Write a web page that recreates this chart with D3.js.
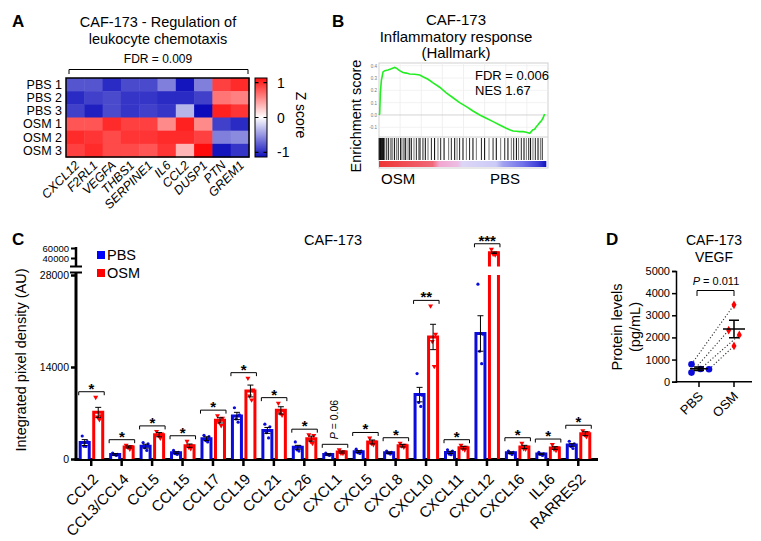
<!DOCTYPE html>
<html>
<head>
<meta charset="utf-8">
<script src="https://cdn.jsdelivr.net/npm/d3@7"></script>
<style>
  body { margin: 0; background: #fff; }
  svg { display: block; font-family: "Liberation Sans", Arial, sans-serif; }
</style>
</head>
<body>
<svg id="fig" width="761" height="541"></svg>
<script>
// ---------- data: panel A (z scores) ----------
const heatRows = ["PBS 1", "PBS 2", "PBS 3", "OSM 1", "OSM 2", "OSM 3"];
const heatGenes = ["CXCL12", "F2RL1", "VEGFA", "THBS1", "SERPINE1", "IL6", "CCL2", "DUSP1", "PTN", "GREM1"];
const zScores = [
    [-0.8, -0.8, -1.0, -0.85, -0.85, -0.6, -1.1, -0.6, 0.9, 1.0],
    [-1.0, -0.9, -0.85, -0.95, -0.95, -1.0, -1.0, -0.9, 0.65, 0.6],
    [-0.9, -1.05, -0.85, -0.95, -0.9, -0.95, -0.35, -1.15, 1.05, 0.95],
    [0.8, 0.8, 1.0, 0.9, 0.9, 0.55, 1.05, 0.55, -0.9, -1.0],
    [1.0, 0.95, 0.85, 0.95, 0.95, 1.0, 1.0, 0.9, -0.6, -0.55],
    [0.9, 1.0, 0.85, 0.85, 0.8, 0.95, 0.35, 1.15, -1.1, -0.95]
];
const zTicks = [1, 0, -1];

// ---------- data: panel B (GSEA running score) ----------
const esRank = [0, 0.4, 0.8, 1.4, 2.4, 3.4, 5.3, 7.3, 9.3, 10.3, 12.2, 14.2, 16.2, 18.1, 21.1, 24.1,
    26, 29, 32, 35.9, 39.8, 43.8, 47.7, 51.7, 55.6, 59.6, 63.5, 67.5, 71.4, 75.3, 77.3, 79.3,
    81.3, 83.2, 85.2, 87.2, 89.2, 90.1, 91.1, 92.1, 93.1, 94.1, 95.1, 96.1, 97, 98];
const esValue = [0, 0.01, 0.18, 0.28, 0.35, 0.36, 0.365, 0.375, 0.386, 0.38, 0.36, 0.345, 0.34, 0.332, 0.33, 0.325,
    0.31, 0.29, 0.26, 0.225, 0.18, 0.14, 0.10, 0.068, 0.032, 0.0, -0.027, -0.054, -0.081, -0.108, -0.12, -0.13,
    -0.132, -0.135, -0.135, -0.14, -0.149, -0.135, -0.12, -0.116, -0.095, -0.08, -0.062, -0.046, -0.027, 0.008];
const hitRank = [0.1, 0.4, 0.7, 1.0, 1.3, 1.6, 1.9, 2.2, 2.5, 2.8, 3.2, 4.3, 5.5, 6.7, 7.7, 9.1, 10.3, 11.4,
    12.8, 13.6, 14.8, 15.8, 17.2, 18.1, 19.1, 20.7, 22.1, 23.7, 24.5, 26.0, 27.4, 29.0, 31.0, 32.9, 34.9,
    36.5, 38.5, 41.2, 42.8, 44.8, 46.2, 47.7, 49.7, 51.7, 53.6, 55.6, 57.6, 60.6, 62.5, 65.1, 67.5, 69.4,
    72.0, 74.4, 76.3, 78.3, 79.7, 81.3, 82.6, 84.2, 85.8, 87.2, 88.6, 89.7, 91.1, 92.5, 94.1, 95.5, 96.6];
const esTicks = [-0.1, 0, 0.1, 0.2, 0.3, 0.4];

// ---------- data: panel C (cytokine array) ----------
const chemokines = ["CCL2", "CCL3/CCL4", "CCL5", "CCL15", "CCL17", "CCL19", "CCL21", "CCL26", "CXCL1",
    "CXCL5", "CXCL8", "CXCL10", "CXCL11", "CXCL12", "CXCL16", "IL16", "RARRES2"];
const pbsMean = [2500, 700, 1950, 950, 3100, 6550, 4350, 1780, 700, 1120, 960, 9800, 1000, 19100, 950, 760, 2130];
const osmMean = [7100, 1830, 3700, 2030, 5880, 10350, 7400, 3100, 1060, 2590, 2030, 18570, 1730, 50500, 1830, 1670, 3850];
const pbsSem = [450, 120, 300, 150, 280, 550, 450, 300, 100, 150, 100, 1100, 180, 2700, 120, 100, 200];
const osmSem = [760, 150, 320, 250, 400, 900, 550, 380, 150, 300, 200, 1930, 200, 1400, 250, 200, 300];
const pbsPoints = [
    [3500, 2650, 1950, 1900], [900, 700, 650, 550], [2500, 2300, 1700, 1300], [1300, 1000, 800, 700],
    [3600, 3400, 2800, 2600], [7800, 6700, 6100, 5600], [5300, 4900, 4000, 3200], [2600, 1900, 1400, 1200],
    [900, 700, 650, 550], [1500, 1200, 950, 850], [1200, 1000, 900, 750], [13000, 9700, 8600, 8000],
    [1400, 1200, 750, 650], [26600, 19000, 16400, 14500], [1200, 1000, 900, 700], [1000, 800, 700, 550],
    [2700, 2300, 1900, 1600]
];
const osmPoints = [
    [9400, 6600, 6400, 6000], [2100, 1900, 1800, 1500], [4200, 3800, 3600, 3200], [2700, 2000, 1800, 1600],
    [6600, 6200, 5600, 5100], [12300, 10500, 9600, 9000], [8500, 7400, 7000, 6700], [3700, 3600, 2700, 2400],
    [1400, 1100, 900, 850], [3200, 2600, 2400, 2200], [2400, 2100, 2000, 1800], [23300, 19000, 17900, 14100],
    [2100, 1800, 1600, 1400], [57500, 50000, 48000, 46500], [2400, 1800, 1600, 1500], [2200, 1700, 1500, 1300],
    [4300, 4000, 3700, 3400]
];
const sigLabels = ["*", "*", "*", "*", "*", "*", "*", "*", "P = 0.06", "*", "*", "**", "*", "***", "*", "*", "*"];
const lowTicks = [0, 14000, 28000];
const highTicks = [40000, 60000];

// ---------- data: panel D (VEGF ELISA) ----------
const vegfGroups = ["PBS", "OSM"];
const vegfPbs = [790, 410, 575, 560];
const vegfOsm = [3470, 2325, 2110, 1615];
const vegfTicks = [0, 1000, 2000, 3000, 4000, 5000];

const BLUE = "#0b0bdc";
const RED = "#ff0000";
const FONT = "Liberation Sans, Arial, sans-serif";

const fig = d3.select("#fig");

function panelLetter(x, y, t) {
    fig.append("text").attr("x", x).attr("y", y)
        .attr("font-size", 17).attr("font-weight", "bold").text(t);
}

// ================= Panel A =================
panelLetter(12, 27, "A");
const gA = fig.append("g");

gA.append("text").attr("x", 158).attr("y", 27).attr("text-anchor", "middle")
    .attr("font-size", 14.5).text("CAF-173 - Regulation of");
gA.append("text").attr("x", 158).attr("y", 44).attr("text-anchor", "middle")
    .attr("font-size", 14.5).text("leukocyte chemotaxis");
gA.append("text").attr("x", 158).attr("y", 63).attr("text-anchor", "middle")
    .attr("font-size", 12).text("FDR = 0.009");
gA.append("path").attr("d", "M69,74V69.5H248V74")
    .attr("fill", "none").attr("stroke", "#000").attr("stroke-width", 1);

const hx = d3.scaleBand().domain(heatGenes).range([66, 249]);
const hy = d3.scaleBand().domain(heatRows).range([78, 157]);
const zColor = d3.scaleLinear().domain([-1.2, 0, 1.2])
    .range(["#0000b8", "#ffffff", "#ff0000"]).clamp(true);

const cells = heatRows.flatMap((r, i) => heatGenes.map((g, j) => ({ r: r, g: g, v: zScores[i][j] })));
gA.selectAll("rect.cell")
    .data(cells)
    .enter()
    .append("rect")
    .attr("class", "cell")
    .attr("x", d => hx(d.g))
    .attr("y", d => hy(d.r))
    .attr("width", hx.bandwidth() + 0.5)
    .attr("height", hy.bandwidth() + 0.5)
    .attr("fill", d => zColor(d.v));
gA.append("rect").attr("x", 66).attr("y", 78).attr("width", 183).attr("height", 79)
    .attr("fill", "none").attr("stroke", "#000").attr("stroke-width", 1.5);

gA.selectAll("text.row")
    .data(heatRows)
    .enter()
    .append("text")
    .attr("class", "row")
    .attr("x", 62)
    .attr("y", d => hy(d) + hy.bandwidth() / 2)
    .attr("dy", "0.35em")
    .attr("text-anchor", "end")
    .attr("font-size", 12.5)
    .text(d => d);

gA.selectAll("text.gene")
    .data(heatGenes)
    .enter()
    .append("text")
    .attr("class", "gene")
    .attr("transform", d => `translate(${hx(d) + hx.bandwidth() / 2 + 5}, 166) rotate(-45)`)
    .attr("text-anchor", "end")
    .attr("font-size", 12.5)
    .attr("font-style", "italic")
    .text(d => d);

// colour bar
const zBar = d3.scaleLinear().domain([-1.13, 1.13]).range([157, 78]);
const defs = fig.append("defs");
const zGrad = defs.append("linearGradient").attr("id", "zgrad")
    .attr("x1", 0).attr("y1", 1).attr("x2", 0).attr("y2", 0);
d3.range(0, 1.0001, 0.05).forEach(t => {
    zGrad.append("stop").attr("offset", t)
        .attr("stop-color", zColor(zBar.domain()[0] + t * (zBar.domain()[1] - zBar.domain()[0])));
});
gA.append("rect").attr("x", 255).attr("y", 78).attr("width", 12).attr("height", 79)
    .attr("fill", "url(#zgrad)").attr("stroke", "#000").attr("stroke-width", 1);
gA.selectAll("line.ztick")
    .data(zTicks)
    .enter()
    .append("line")
    .attr("x1", 255).attr("x2", 267)
    .attr("y1", d => zBar(d)).attr("y2", d => zBar(d))
    .attr("stroke", "#000").attr("stroke-width", 1.2)
    .attr("stroke-dasharray", "3.5,5");
gA.selectAll("text.ztick")
    .data(zTicks)
    .enter()
    .append("text")
    .attr("x", 277)
    .attr("y", d => zBar(d))
    .attr("dy", "0.36em")
    .attr("font-size", 14)
    .text(d => d < 0 ? "-" + Math.abs(d) : d);
gA.append("text").attr("transform", "translate(296,115) rotate(90)")
    .attr("text-anchor", "middle").attr("font-size", 14).text("Z score");

// ================= Panel B =================
panelLetter(332, 27, "B");
const gB = fig.append("g");
[["CAF-173", 25], ["Inflammatory response", 41.5], ["(Hallmark)", 58]].forEach(([t, y]) => {
    gB.append("text").attr("x", 456).attr("y", y).attr("text-anchor", "middle")
        .attr("font-size", 15).text(t);
});

const gx = d3.scaleLinear().domain([0, 100]).range([379, 548]);
const gy = d3.scaleLinear().domain([-0.1, 0.4]).range([127.3, 65.7]);

// frames and light grid
gB.append("rect").attr("x", 379).attr("y", 63).attr("width", 169).attr("height", 105)
    .attr("fill", "#fff").attr("stroke", "#cfcfcf").attr("stroke-width", 1);
gB.selectAll("line.vgrid")
    .data(d3.range(12.5, 100, 12.5))
    .enter()
    .append("line")
    .attr("x1", d => gx(d)).attr("x2", d => gx(d))
    .attr("y1", 63).attr("y2", 137)
    .attr("stroke", "#ececec").attr("stroke-width", 0.8);
gB.selectAll("line.hgrid")
    .data(esTicks)
    .enter()
    .append("line")
    .attr("x1", 379).attr("x2", 548)
    .attr("y1", d => gy(d)).attr("y2", d => gy(d))
    .attr("stroke", d => d === 0 ? "#c8c8c8" : "#efefef").attr("stroke-width", 0.8);
gB.append("line").attr("x1", 379).attr("x2", 548).attr("y1", 137).attr("y2", 137)
    .attr("stroke", "#cfcfcf");

const esAxis = gB.append("g").attr("transform", "translate(379,0)")
    .call(d3.axisLeft(gy).tickValues(esTicks).tickSize(0).tickPadding(2)
        .tickFormat(d => (d < 0 ? "-" : "") + Math.abs(d).toFixed(1)));
esAxis.select(".domain").remove();
esAxis.selectAll("text").attr("font-size", 4.5).attr("fill", "#777").attr("font-family", FONT);

// barcode
gB.selectAll("line.hit")
    .data(hitRank)
    .enter()
    .append("line")
    .attr("x1", d => gx(d)).attr("x2", d => gx(d))
    .attr("y1", 138).attr("y2", 160)
    .attr("stroke", "#000")
    .attr("stroke-opacity", (d, i) => [1, 0.55, 0.85][i % 3])
    .attr("stroke-width", 1);

// ranked-list strip
const sGrad = defs.append("linearGradient").attr("id", "sgrad");
[[0, "#ee3434"], [0.32, "#f06878"], [0.36, "#f2a6cf"], [0.47, "#ecbde3"], [0.5, "#dcd6f6"],
 [0.7, "#cbcbf8"], [0.74, "#a2a2f0"], [0.86, "#7272ea"], [0.95, "#4040d8"], [1, "#1212bf"]]
    .forEach(([o, c]) => sGrad.append("stop").attr("offset", o).attr("stop-color", c));
gB.append("rect").attr("x", gx(0)).attr("y", 161).attr("width", gx(99) - gx(0)).attr("height", 6)
    .attr("fill", "url(#sgrad)");

// running enrichment score
const esLine = d3.line().x((d, i) => gx(esRank[i])).y(d => gy(d));
gB.append("path").attr("d", esLine(esValue))
    .attr("fill", "none").attr("stroke", "#22ee22").attr("stroke-width", 1.6);

gB.append("text").attr("x", 475).attr("y", 80).attr("font-size", 13).text("FDR = 0.006");
gB.append("text").attr("x", 475).attr("y", 95).attr("font-size", 13).text("NES 1.67");
gB.append("text").attr("transform", "translate(361,116) rotate(-90)")
    .attr("text-anchor", "middle").attr("font-size", 14.5).text("Enrichment score");
gB.append("text").attr("x", 381).attr("y", 184).attr("font-size", 15).text("OSM");
gB.append("text").attr("x", 490).attr("y", 184).attr("font-size", 15).text("PBS");

// ================= Panel C =================
panelLetter(12, 245, "C");
const gC = fig.append("g");
gC.append("text").attr("x", 333).attr("y", 245).attr("text-anchor", "middle")
    .attr("font-size", 14.5).text("CAF-173");

const cx = d3.scaleBand().domain(chemokines).range([76, 593.5]);
const cyLow = d3.scaleLinear().domain([0, 28000]).range([459, 275]);
const cyHigh = d3.scaleLinear().domain([40000, 60000]).range([258, 248]);
const yOf = v => v <= 28000 ? cyLow(v) : cyHigh(v);
const BREAK_TOP = 266.5;
const tickX = d => cx(d) + cx.bandwidth() / 2;

// y axis with break
const lowAxis = gC.append("g").attr("transform", "translate(76,0)")
    .call(d3.axisLeft(cyLow).tickValues(lowTicks).tickSize(5).tickPadding(2).tickFormat(d3.format("d")));
lowAxis.select(".domain").remove();
lowAxis.selectAll("line").attr("stroke-width", 2.5);
lowAxis.selectAll("text").attr("font-size", 10.5).attr("font-family", FONT);
const highAxis = gC.append("g").attr("transform", "translate(76,0)")
    .call(d3.axisLeft(cyHigh).tickValues(highTicks).tickSize(5).tickPadding(2).tickFormat(d3.format("d")));
highAxis.select(".domain").remove();
highAxis.selectAll("line").attr("stroke-width", 2);
highAxis.selectAll("text").attr("font-size", 9.5).attr("font-family", FONT);
gC.append("line").attr("x1", 76).attr("x2", 76).attr("y1", 272).attr("y2", 460.5)
    .attr("stroke", "#000").attr("stroke-width", 3);
gC.append("line").attr("x1", 76).attr("x2", 76).attr("y1", 247).attr("y2", BREAK_TOP)
    .attr("stroke", "#000").attr("stroke-width", 2.5);
gC.append("line").attr("x1", 70).attr("x2", 82).attr("y1", BREAK_TOP).attr("y2", BREAK_TOP)
    .attr("stroke", "#000").attr("stroke-width", 2);
gC.append("line").attr("x1", 70).attr("x2", 82).attr("y1", 272.5).attr("y2", 272.5)
    .attr("stroke", "#000").attr("stroke-width", 2);

gC.append("text").attr("transform", "translate(26,360) rotate(-90)")
    .attr("text-anchor", "middle").attr("font-size", 14.5).text("Integrated pixel density (AU)");

// x axis
gC.append("line").attr("x1", 74.5).attr("x2", 598).attr("y1", 459.5).attr("y2", 459.5)
    .attr("stroke", "#000").attr("stroke-width", 3);
gC.selectAll("line.xtick")
    .data(chemokines)
    .enter()
    .append("line")
    .attr("x1", tickX).attr("x2", tickX)
    .attr("y1", 459).attr("y2", 466)
    .attr("stroke", "#000").attr("stroke-width", 2.5);
gC.selectAll("text.xlab")
    .data(chemokines)
    .enter()
    .append("text")
    .attr("transform", d => `translate(${tickX(d) + 8}, 480) rotate(-45)`)
    .attr("text-anchor", "end")
    .attr("font-size", 15)
    .text(d => d);

// bars
const BAR_W = 9;
const groups = [
    { name: "PBS", mean: pbsMean, sem: pbsSem, pts: pbsPoints, color: BLUE, off: -6.5 },
    { name: "OSM", mean: osmMean, sem: osmSem, pts: osmPoints, color: RED, off: 7 }
];
const jitter = [-2.5, 2.5, -0.8, 1.2];

groups.forEach(grp => {
    const bars = chemokines.map((c, i) => ({ c: c, v: grp.mean[i], s: grp.sem[i], pts: grp.pts[i] }));
    const gg = gC.append("g");
    gg.selectAll("path.bar")
        .data(bars)
        .enter()
        .append("path")
        .attr("d", d => {
            const xl = tickX(d.c) + grp.off - BAR_W / 2;
            const xr = xl + BAR_W;
            if (d.v <= 28000) {
                return `M${xl},459V${yOf(d.v)}H${xr}V459`;
            }
            return `M${xl},459V275M${xr},275V459` +
                `M${xl},${BREAK_TOP}V${yOf(d.v)}H${xr}V${BREAK_TOP}`;
        })
        .attr("fill", "#fff")
        .attr("stroke", grp.color)
        .attr("stroke-width", 3);

    // points
    bars.forEach(d => {
        const cxp = tickX(d.c) + grp.off;
        d.pts.forEach((p, k) => {
            if (grp.name === "PBS") {
                gg.append("circle").attr("cx", cxp + jitter[k]).attr("cy", yOf(p))
                    .attr("r", 1.6).attr("fill", grp.color);
            } else {
                gg.append("path")
                    .attr("d", d3.symbol(d3.symbolTriangle).size(11)())
                    .attr("transform", `translate(${cxp + jitter[k]},${yOf(p)}) rotate(180)`)
                    .attr("fill", grp.color);
            }
        });
    });

    // error bars
    gg.selectAll("path.err")
        .data(bars)
        .enter()
        .append("path")
        .attr("d", d => {
            const x = tickX(d.c) + grp.off;
            const y1 = yOf(d.v + d.s), y0 = yOf(d.v - d.s);
            return `M${x},${y0}V${y1}M${x - 3},${y1}H${x + 3}M${x - 3},${y0}H${x + 3}`;
        })
        .attr("fill", "none")
        .attr("stroke", "#000")
        .attr("stroke-width", 1);
});

// significance brackets
chemokines.forEach((c, i) => {
    const top = d3.max([...pbsPoints[i], ...osmPoints[i], pbsMean[i] + pbsSem[i], osmMean[i] + osmSem[i]]);
    const by = yOf(top) - 5.5;
    const xl = tickX(c) - 6.5 - BAR_W / 2 - 1.5;
    const xr = tickX(c) + 7 + BAR_W / 2 + 1.5;
    gC.append("path").attr("d", `M${xl},${by + 3.5}V${by}H${xr}V${by + 3.5}`)
        .attr("fill", "none").attr("stroke", "#000").attr("stroke-width", 1);
    const lab = sigLabels[i];
    if (lab.startsWith("P")) {
        const t = gC.append("text")
            .attr("transform", `translate(${tickX(c) + 3.5},${by - 5}) rotate(-90)`)
            .attr("font-size", 10.5);
        t.append("tspan").attr("font-style", "italic").text("P");
        t.append("tspan").text(lab.slice(1));
    } else {
        gC.append("text").attr("x", (xl + xr) / 2).attr("y", by + 2)
            .attr("text-anchor", "middle").attr("font-size", 15).attr("font-weight", "bold")
            .text(lab);
    }
});

// legend
[["PBS", "#0000ff", 251], ["OSM", RED, 269]].forEach(([t, col, y]) => {
    gC.append("rect").attr("x", 97).attr("y", y).attr("width", 8).attr("height", 8).attr("fill", col);
    gC.append("text").attr("x", 107).attr("y", y + 8.5).attr("font-size", 14.5).text(t);
});

// ================= Panel D =================
panelLetter(606, 245, "D");
const gD = fig.append("g");
gD.append("text").attr("x", 714).attr("y", 245).attr("text-anchor", "middle")
    .attr("font-size", 14).text("CAF-173");
gD.append("text").attr("x", 714).attr("y", 262).attr("text-anchor", "middle")
    .attr("font-size", 14).text("VEGF");

const dx = d3.scalePoint().domain(vegfGroups).range([699, 734]);
const dy = d3.scaleLinear().domain([0, 5000]).range([381.7, 271]);

const dAxisY = gD.append("g").attr("transform", "translate(676,0)")
    .call(d3.axisLeft(dy).tickValues(vegfTicks).tickSize(4).tickPadding(2).tickFormat(d3.format("d")));
dAxisY.selectAll("text").attr("font-size", 11).attr("font-family", FONT);
dAxisY.selectAll("line, path").attr("stroke-width", 1.5);
gD.append("line").attr("x1", 675.5).attr("x2", 752).attr("y1", 381.7).attr("y2", 381.7)
    .attr("stroke", "#000").attr("stroke-width", 1.5);
gD.selectAll("line.dtick")
    .data(vegfGroups)
    .enter()
    .append("line")
    .attr("x1", d => dx(d)).attr("x2", d => dx(d))
    .attr("y1", 381.7).attr("y2", 387)
    .attr("stroke", "#000").attr("stroke-width", 1.5);
gD.selectAll("text.dlab")
    .data(vegfGroups)
    .enter()
    .append("text")
    .attr("transform", d => `translate(${dx(d) + 5}, 397) rotate(-45)`)
    .attr("text-anchor", "end")
    .attr("font-size", 13)
    .text(d => d);

gD.append("text").attr("transform", "translate(622,327) rotate(-90)")
    .attr("text-anchor", "middle").attr("font-size", 14.5).text("Protein levels");
gD.append("text").attr("transform", "translate(640,327) rotate(-90)")
    .attr("text-anchor", "middle").attr("font-size", 14.5).text("(pg/mL)");

// P value bracket
gD.append("path").attr("d", "M697,296V290.5H734V296")
    .attr("fill", "none").attr("stroke", "#000").attr("stroke-width", 1);
const pt = gD.append("text").attr("x", 716).attr("y", 285).attr("text-anchor", "middle").attr("font-size", 11);
pt.append("tspan").attr("font-style", "italic").text("P");
pt.append("tspan").text(" = 0.011");

const pbsJit = [-7.5, -7.5, 1.5, 10];
const osmJit = [0, -5.3, 5.3, 0];
// paired dotted lines
vegfPbs.forEach((v, i) => {
    gD.append("line")
        .attr("x1", dx("PBS") + pbsJit[i]).attr("y1", dy(v))
        .attr("x2", dx("OSM") + osmJit[i]).attr("y2", dy(vegfOsm[i]))
        .attr("stroke", "#333").attr("stroke-width", 1.1).attr("stroke-dasharray", "1.2,2");
});
gD.selectAll("circle.pbs")
    .data(vegfPbs)
    .enter()
    .append("circle")
    .attr("cx", (d, i) => dx("PBS") + pbsJit[i]).attr("cy", d => dy(d))
    .attr("r", 3.3).attr("fill", BLUE);
gD.selectAll("path.osm")
    .data(vegfOsm)
    .enter()
    .append("path")
    .attr("d", d3.symbol(d3.symbolDiamond).size(22)())
    .attr("transform", (d, i) => `translate(${dx("OSM") + osmJit[i]},${dy(d)})`)
    .attr("fill", RED);

// mean +/- SEM
[["PBS", vegfPbs, 9], ["OSM", vegfOsm, 11]].forEach(([g, vals, half]) => {
    const m = d3.mean(vals);
    const s = d3.deviation(vals) / Math.sqrt(vals.length);
    const x = dx(g);
    gD.append("path")
        .attr("d", `M${x - half},${dy(m)}H${x + half}M${x},${dy(m - s)}V${dy(m + s)}` +
            `M${x - 5},${dy(m + s)}H${x + 5}M${x - 5},${dy(m - s)}H${x + 5}`)
        .attr("fill", "none").attr("stroke", "#000").attr("stroke-width", 1.5);
});
</script>
</body>
</html>
